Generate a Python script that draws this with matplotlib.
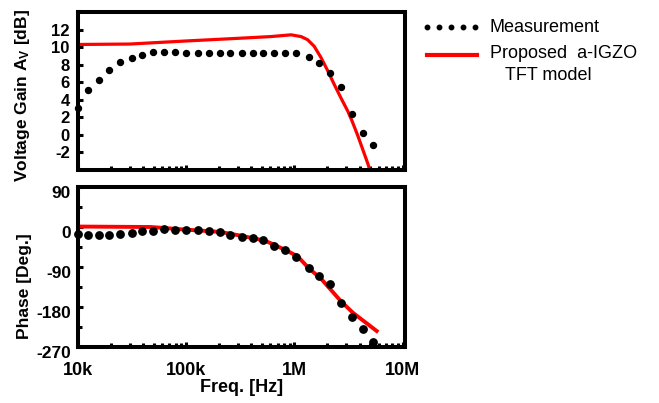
import matplotlib
matplotlib.use("Agg")
import matplotlib.pyplot as plt
import matplotlib.transforms as mtransforms
from matplotlib.lines import Line2D
from matplotlib.ticker import FixedLocator, NullFormatter, LogLocator

plt.rcParams['font.family'] = ['Liberation Sans', 'DejaVu Sans']
plt.rcParams['mathtext.fontset'] = 'custom'
plt.rcParams['mathtext.bf'] = 'Liberation Sans:bold'
plt.rcParams['mathtext.rm'] = 'Liberation Sans'
plt.rcParams['axes.unicode_minus'] = False

# ---- data ----
meas_freq = [1.0e4, 1.25e4, 1.55e4, 1.94e4, 2.43e4, 3.13e4, 3.94e4, 4.94e4, 6.27e4, 7.89e4,
             1.0e5, 1.28e5, 1.62e5, 2.03e5, 2.56e5, 3.25e5, 4.11e5, 5.17e5, 6.52e5, 8.24e5,
             1.03e6, 1.35e6, 1.69e6, 2.15e6, 2.67e6, 3.40e6, 4.27e6, 5.37e6]
meas_gain = [3.1, 5.1, 6.3, 7.4, 8.3, 8.8, 9.1, 9.4, 9.5, 9.5,
             9.3, 9.3, 9.3, 9.3, 9.3, 9.3, 9.3, 9.3, 9.3, 9.3,
             9.3, 8.9, 8.2, 7.0, 5.5, 2.4, 0.2, -1.1]
meas_phase = [-16, -19, -18, -18, -15, -14, -8, -8, -5, -6,
              -6, -7.5, -10, -10.5, -18, -22, -25.5, -30, -42, -52,
              -68, -92, -110, -129, -170, -202, -230, -259]

model_gain_freq = [1e4, 3e4, 1e5, 3e5, 6.05e5, 9.3e5, 1.15e6, 1.32e6, 1.52e6, 1.76e6,
                   2.03e6, 2.34e6, 2.69e6, 3.11e6, 3.40e6, 3.85e6, 4.77e6, 5.1e6]
model_gain = [10.3, 10.35, 10.7, 11.0, 11.2, 11.4, 11.2, 10.85, 10.1, 8.8,
              7.3, 5.7, 4.2, 2.7, 1.6, -0.1, -3.3, -4.5]

model_phase_freq = [1e4, 4.7e4, 1e5, 2.05e5, 3.27e5, 5.37e5, 8.3e5, 1.07e6, 1.37e6,
                    1.74e6, 2.71e6, 3.47e6, 5.75e6]
model_phase = [1, 0, -6, -11, -20, -31, -52, -66, -94, -115, -168, -193, -234]

gain_ticks = [-2, 0, 2, 4, 6, 8, 10, 12]
phase_ticks = [-270, -180, -90, 0, 90]
freq_ticks = [1e4, 1e5, 1e6, 1e7]
freq_labels = ['10k', '100k', '1M', '10M']

fig = plt.figure(figsize=(6.59, 4.03), dpi=100)
W, H = 659, 403
def rect(l, t, r, b):
    return [l / W, 1 - b / H, (r - l) / W, (b - t) / H]

ax1 = fig.add_axes(rect(78, 12, 405, 170))
ax2 = fig.add_axes(rect(78, 187, 405, 347))

for ax in (ax1, ax2):
    ax.set_xscale('log')
    ax.set_xlim(1e4, 1.05e7)
    for s in ax.spines.values():
        s.set_linewidth(2.9)
    ax.xaxis.set_major_locator(FixedLocator(freq_ticks))
    ax.xaxis.set_minor_locator(LogLocator(base=10, subs=range(2, 10)))
    ax.xaxis.set_minor_formatter(NullFormatter())
    ax.tick_params(which='both', direction='in', top=False, right=False,
                   width=2.2, length=3)
    ax.tick_params(which='major', length=3.5)

# top: gain
ax1.plot(model_gain_freq, model_gain, color='#ff0000', lw=2.3, zorder=2)
ax1.plot(meas_freq, meas_gain, 'o', color='black', ms=4.3, zorder=3, clip_on=False)
ax1.set_ylim(-4, 14)
ax1.set_yticks(gain_ticks)
ax1.set_xticklabels([])
ax1.tick_params(axis='y', labelsize=12, pad=6)
for lab in ax1.get_yticklabels():
    lab.set_fontweight('bold')
ax1.set_ylabel(r'Voltage Gain $\mathbf{A_V}$ [dB]', fontsize=12.5, fontweight='bold')
ax1.yaxis.set_label_coords(-0.14, 0.47)

# bottom: phase
ax2.plot(model_phase_freq, model_phase, color='#ff0000', lw=2.8, zorder=2)
ax2.plot(meas_freq, meas_phase, 'o', color='black', ms=5.3, zorder=3, clip_on=False)
ax2.set_ylim(-270, 90)
ax2.set_yticks(phase_ticks)
ax2.yaxis.set_minor_locator(FixedLocator([-225, -135, -45, 45]))
ax2.set_xticks(freq_ticks)
ax2.set_xticklabels(freq_labels)
ax2.tick_params(axis='y', labelsize=12.5, pad=5)
ax2.tick_params(axis='x', labelsize=13, pad=11)
shift = mtransforms.ScaledTranslation(0, -4.5 / 100, fig.dpi_scale_trans)
for lab in ax2.get_yticklabels():
    lab.set_fontweight('bold')
    lab.set_transform(lab.get_transform() + shift)
for lab in ax2.get_xticklabels():
    lab.set_fontweight('bold')
ax2.set_ylabel('Phase [Deg.]', fontsize=12.5, fontweight='bold')
ax2.yaxis.set_label_coords(-0.14, 0.38)
ax2.set_xlabel('Freq. [Hz]', fontsize=13, fontweight='bold', labelpad=0)

# legend (manual)
def fx(x): return x / W
def fy(y): return 1 - y / H
fig.add_artist(Line2D([fx(427), fx(439), fx(451), fx(463), fx(475)], [fy(26.7)] * 5,
                      ls='none', marker='o', ms=3.2, color='black'))
fig.add_artist(Line2D([fx(427), fx(477)], [fy(55)] * 2, color='#ff0000', lw=3))
fig.text(fx(490), fy(27), 'Measurement', fontsize=13, va='center', ha='left')
fig.text(fx(490), fy(54), 'Proposed  a-IGZO', fontsize=13, va='center', ha='left')
fig.text(fx(505), fy(76), 'TFT model', fontsize=13, va='center', ha='left')

fig.savefig('out.png', dpi=100)
